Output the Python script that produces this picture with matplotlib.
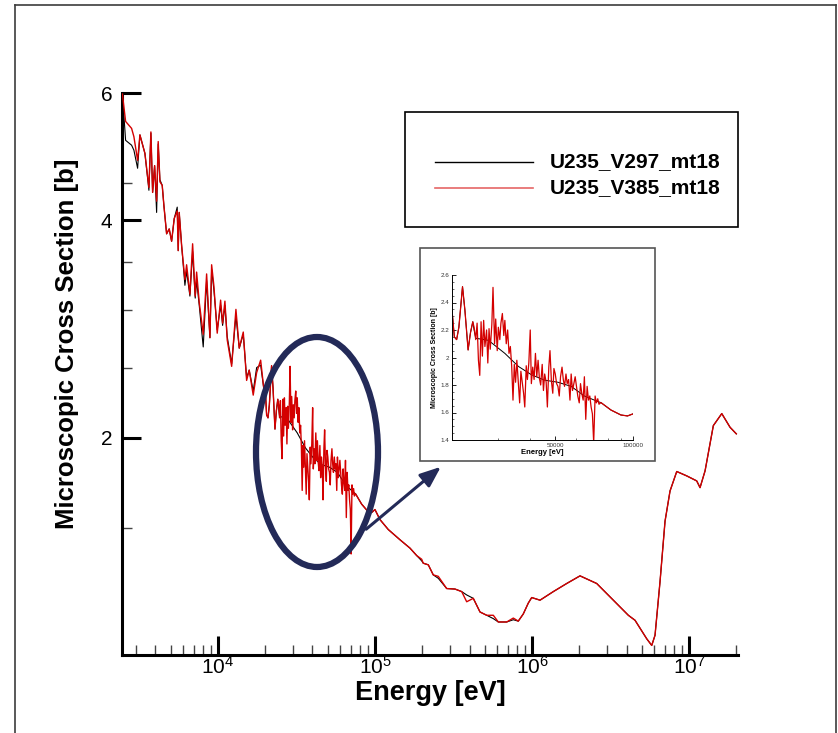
import matplotlib
matplotlib.use("Agg")
import matplotlib.pyplot as plt
from matplotlib.patches import Ellipse, Rectangle, FancyArrowPatch
from matplotlib.lines import Line2D
from matplotlib.ticker import FixedLocator, NullFormatter, LogLocator, FuncFormatter, MultipleLocator

plt.rcParams["font.family"] = ["Liberation Sans", "DejaVu Sans"]
plt.rcParams["mathtext.fontset"] = "custom"
plt.rcParams["mathtext.rm"] = "Liberation Sans"
plt.rcParams["mathtext.it"] = "Liberation Sans:italic"
plt.rcParams["mathtext.bf"] = "Liberation Sans:bold"

RED = "#d40000"
NAVY = "#232a58"

# resolved resonance region, both evaluations on the same grid
e_low = [2465, 2583, 2820, 2917, 3080, 3186, 3428, 3635, 3743, 3838,
         3952, 4070, 4166, 4272, 4418, 4529, 4712, 4895, 5071, 5268,
         5506, 5586, 5669, 5872, 6163, 6318, 6632, 6900, 7167, 7316,
         7602, 8061, 8472, 8895, 9118, 9430, 9897, 10400, 10710, 11080,
         11460, 12230, 13020, 13670, 14500, 15230, 15820, 16780, 17640, 18710,
         19630, 20000, 20420, 20840, 21260, 21960, 22430, 23080, 23570, 24060,
         24340]
xs_low_v297 = [5.98, 5.16, 5.08, 5.00, 4.72, 5.25, 4.95, 4.40, 5.28, 4.37,
               4.76, 4.10, 5.10, 4.55, 4.47, 4.19, 3.83, 3.89, 3.74, 4.02,
               4.17, 3.63, 4.10, 3.69, 3.25, 3.40, 3.14, 3.62, 3.12, 3.30,
               3.05, 2.67, 3.30, 2.75, 3.42, 3.20, 2.82, 3.05, 2.86, 3.05,
               2.76, 2.53, 2.95, 2.66, 2.78, 2.42, 2.48, 2.32, 2.50, 2.52,
               2.33, 2.345, 2.15, 2.13, 2.22, 2.515, 2.345, 2.055, 2.18, 2.26,
               2.20]
xs_low_v385 = [5.98, 5.48, 5.36, 5.22, 4.84, 5.25, 4.95, 4.44, 5.30, 4.37,
               4.76, 4.25, 5.14, 4.52, 4.47, 4.19, 3.83, 3.89, 3.74, 4.02,
               4.12, 3.63, 4.10, 3.69, 3.31, 3.47, 3.16, 3.71, 3.14, 3.39,
               3.08, 2.78, 3.37, 2.75, 3.47, 3.24, 2.79, 3.10, 2.88, 3.09,
               2.73, 2.51, 3.01, 2.66, 2.80, 2.40, 2.48, 2.29, 2.46, 2.56,
               2.33, 2.345, 2.15, 2.13, 2.22, 2.515, 2.345, 2.055, 2.18, 2.26,
               2.22]

# unresolved range: V297 smooth average, V385 fluctuating
e_urr_v297 = [24700, 27650, 32000, 36100, 40500, 45600, 51300, 57700, 64900, 73100, 75200]
xs_urr_v297 = [2.14, 2.125, 2.03, 1.935, 1.875, 1.835, 1.82, 1.79, 1.72, 1.68, 1.672]

e_urr_v385 = [24700, 25000, 25300, 25600, 25900, 26200, 26500, 26800, 27200, 27500,
              27800, 28100, 28500, 28800, 29200, 29500, 29900, 30200, 30600, 30900,
              31300, 31700, 32000, 32400, 32800, 33200, 33600, 34000, 34400, 34800,
              35200, 35600, 36100, 36500, 36900, 37300, 37800, 38200, 38700, 39100,
              39600, 40100, 40500, 41000, 41500, 42000, 42500, 43000, 43500, 44000,
              44600, 45100, 45600, 46200, 46700, 47300, 47800, 48400, 49000, 49500,
              50100, 50700, 51300, 51900, 52500, 53200, 53800, 54400, 55100, 55700,
              56400, 57100, 57700, 58400, 59100, 59800, 60500, 61200, 62000, 62700,
              63400, 64200, 64900, 65700, 66500, 67300, 68100, 68900, 69700, 70500,
              71400, 72200, 73100, 73900, 75200]
xs_urr_v385 = [2.13, 2.25, 1.98, 1.87, 2.26, 2.01, 2.27, 2.08, 2.20, 1.96,
               2.21, 2.06, 2.24, 2.51, 2.10, 2.28, 2.05, 2.22, 2.13, 2.25,
               2.32, 2.16, 2.27, 2.10, 2.20, 2.03, 2.08, 1.94, 1.69, 1.95,
               1.82, 1.98, 1.80, 1.67, 1.90, 1.83, 1.74, 1.64, 1.94, 1.84,
               1.96, 2.20, 1.81, 1.93, 1.84, 2.03, 1.86, 1.98, 1.85, 1.80,
               1.95, 1.76, 1.88, 1.82, 1.64, 1.93, 2.05, 1.83, 1.74, 1.92,
               1.88, 1.81, 1.79, 1.72, 1.86, 1.93, 1.84, 1.79, 1.88, 1.81,
               1.84, 1.69, 1.88, 1.76, 1.81, 1.86, 1.79, 1.72, 1.67, 1.81,
               1.74, 1.69, 1.86, 1.55, 1.79, 1.69, 1.72, 1.64, 1.59, 1.38,
               1.72, 1.67, 1.70, 1.66, 1.672]

# fast range
e_fast = [82200, 89800, 95200, 100000, 107600, 121500, 144300, 167100, 184400, 198400,
          203000, 218600, 235100, 253000, 286200, 323300, 356700, 383800, 422800, 466500,
          514600, 567000, 610100, 690200, 760200, 817800, 880300, 947100, 995600, 1.125e6,
          1.367e6, 1.663e6, 2.022e6, 2.583e6, 3.295e6, 4.106e6, 4.531e6, 5.378e6, 5.787e6, 6.073e6,
          6.536e6, 7.033e6, 7.568e6, 8.350e6, 9.670e6, 1.119e7, 1.175e7, 1.265e7, 1.428e7, 1.616e7,
          1.824e7, 2.0e7]
xs_fast_v297 = [1.618, 1.582, 1.575, 1.59, 1.54, 1.492, 1.444, 1.406, 1.373, 1.350,
                1.34, 1.333, 1.291, 1.277, 1.236, 1.234, 1.224, 1.211, 1.198, 1.147,
                1.135, 1.123, 1.111, 1.111, 1.119, 1.114, 1.14, 1.18, 1.201, 1.191,
                1.224, 1.256, 1.287, 1.256, 1.191, 1.135, 1.117, 1.053, 1.031, 1.065,
                1.264, 1.532, 1.687, 1.795, 1.770, 1.742, 1.705, 1.799, 2.078, 2.159,
                2.067, 2.024]
xs_fast_v385 = [1.618, 1.582, 1.575, 1.59, 1.54, 1.492, 1.444, 1.406, 1.373, 1.357,
                1.34, 1.333, 1.291, 1.285, 1.236, 1.234, 1.224, 1.185, 1.198, 1.147,
                1.135, 1.135, 1.111, 1.111, 1.125, 1.114, 1.14, 1.18, 1.201, 1.191,
                1.224, 1.256, 1.287, 1.256, 1.191, 1.135, 1.117, 1.053, 1.031, 1.065,
                1.264, 1.532, 1.687, 1.795, 1.770, 1.742, 1.705, 1.799, 2.078, 2.159,
                2.067, 2.024]

e_v297 = e_low + e_urr_v297 + e_fast
xs_v297 = xs_low_v297 + xs_urr_v297 + xs_fast_v297
e_v385 = e_low + e_urr_v385 + e_fast
xs_v385 = xs_low_v385 + xs_urr_v385 + xs_fast_v385

W, H = 838, 733
fig = plt.figure(figsize=(W / 100, H / 100), dpi=100)


def frac(x0, y0, x1, y1):
    # pixel box (top-left origin) -> figure fraction rect
    return [x0 / W, 1 - y1 / H, (x1 - x0) / W, (y1 - y0) / H]


# main plot
ax = fig.add_axes(frac(122, 93, 738, 655))
ax.plot(e_v297, xs_v297, color="black", lw=0.8, zorder=2)
ax.plot(e_v385, xs_v385, color=RED, lw=1.0, zorder=3)
ax.set_xscale("log")
ax.set_yscale("log")
ax.set_xlim(2450, 2.05e7)
ax.set_ylim(1, 6)
for s in ["top", "right"]:
    ax.spines[s].set_visible(False)
for s in ["left", "bottom"]:
    ax.spines[s].set_linewidth(2.2)

ax.yaxis.set_major_locator(FixedLocator([2, 4, 6]))
ax.yaxis.set_major_formatter(FuncFormatter(lambda v, p: f"{v:g}"))
ax.yaxis.set_minor_locator(FixedLocator([1.5, 2.5, 3, 3.5, 4.5]))
ax.yaxis.set_minor_formatter(NullFormatter())
ax.xaxis.set_major_locator(LogLocator(base=10, numticks=10))
ax.xaxis.set_minor_locator(LogLocator(base=10, subs=range(2, 10), numticks=20))
ax.xaxis.set_minor_formatter(NullFormatter())
ax.tick_params(which="major", direction="in", length=14, width=2.2)
ax.tick_params(which="minor", direction="in", length=7, width=1.0, color="#444444")
ax.tick_params(axis="x", which="major", labelsize=15, pad=1)
ax.tick_params(axis="y", which="major", labelsize=15, pad=7)

fig.text(430 / W, 1 - 693 / H, "Energy [eV]", fontsize=19.5, fontweight="bold",
         ha="center", va="center")
fig.text(67 / W, 1 - 344 / H, "Microscopic Cross Section [b]", fontsize=18.5,
         fontweight="bold", rotation=90, ha="center", va="center")

# overlay in pixel coordinates for the frame, legend box, callout
ov = fig.add_axes([0, 0, 1, 1], zorder=5)
ov.set_xlim(0, W)
ov.set_ylim(H, 0)
ov.axis("off")
ov.patch.set_visible(False)

frame_kw = dict(color="#3c3c3c", lw=1.2)
ov.add_line(Line2D([15, 15], [5, H + 5], **frame_kw))
ov.add_line(Line2D([15, 836], [5, 5], **frame_kw))
ov.add_line(Line2D([836, 836], [5, H + 5], **frame_kw))

ov.add_patch(Rectangle((405, 112), 333, 115, facecolor="white", edgecolor="black", lw=1.2))
ov.add_line(Line2D([435, 533], [162, 162], color="black", lw=1.0))
ov.add_line(Line2D([435, 533], [188, 188], color=RED, lw=1.2, alpha=0.6))
ov.text(550, 162, "U235_V297_mt18", fontsize=15, fontweight="bold", va="center", ha="left")
ov.text(550, 188, "U235_V385_mt18", fontsize=15, fontweight="bold", va="center", ha="left")

ov.add_patch(Ellipse((317, 452), 122, 230, facecolor="none", edgecolor=NAVY, lw=4.5))
ov.add_patch(FancyArrowPatch((364, 531), (443, 465),
                             arrowstyle="-|>,head_length=0.5,head_width=0.2",
                             mutation_scale=25, color=NAVY, lw=2.2))

ov.add_patch(Rectangle((420, 248), 235, 213, facecolor="white", edgecolor="#555555", lw=1.2))

# zoomed view of the unresolved range
axin = fig.add_axes(frac(452, 275, 633, 440), zorder=6)
axin.plot(e_v297, xs_v297, color="black", lw=0.7)
axin.plot(e_v385, xs_v385, color=RED, lw=0.9)
axin.set_xscale("log")
axin.set_xlim(2.0e4, 1.0e5)
axin.set_ylim(1.4, 2.6)
for s in ["top", "right"]:
    axin.spines[s].set_visible(False)
for s in ["left", "bottom"]:
    axin.spines[s].set_linewidth(0.7)
axin.xaxis.set_major_locator(FixedLocator([50000, 100000]))
axin.xaxis.set_major_formatter(FuncFormatter(lambda v, p: f"{v:.0f}"))
axin.xaxis.set_minor_locator(FixedLocator([30000, 40000, 60000, 70000, 80000, 90000]))
axin.xaxis.set_minor_formatter(NullFormatter())
axin.yaxis.set_major_locator(MultipleLocator(0.2))
axin.yaxis.set_major_formatter(FuncFormatter(lambda v, p: f"{round(v, 1):g}"))
axin.yaxis.set_minor_locator(MultipleLocator(0.05))
axin.tick_params(which="major", direction="in", length=3, width=0.6, labelsize=4.5,
                 labelcolor="#333333", pad=2)
axin.tick_params(which="minor", direction="in", length=1.5, width=0.4)
axin.set_xlabel("Energy [eV]", fontsize=5.5, fontweight="bold", labelpad=1)
axin.set_ylabel("Microscopic Cross Section [b]", fontsize=5, fontweight="bold", labelpad=2)

fig.savefig("out.png", dpi=100)
